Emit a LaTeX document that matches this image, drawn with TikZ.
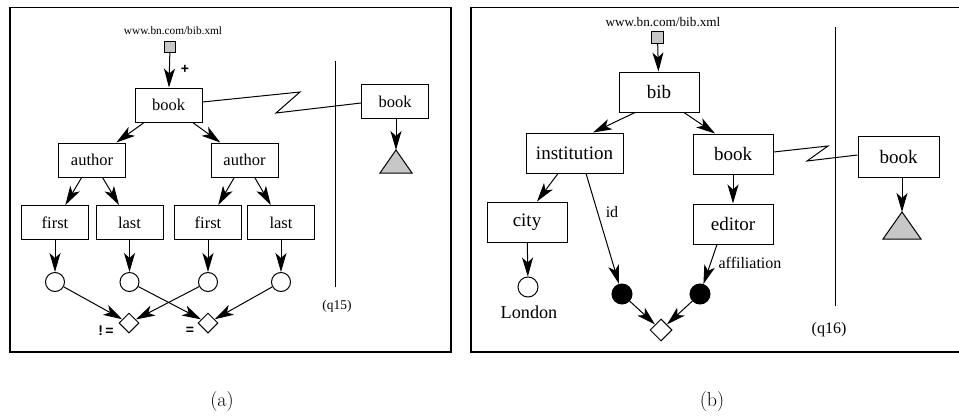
\documentclass[tikz,border=0pt]{standalone}
\usepackage{fontspec}
\usetikzlibrary{shapes.geometric,arrows.meta}
\newfontfamily\tms{Liberation Serif}
\newfontfamily\hvb{Liberation Sans}
\begin{document}
\begin{tikzpicture}[x=1pt,y=-1pt,
  arr/.style={line width=1pt,-{Stealth[length=19pt,width=11pt,inset=5pt]}},
  frame/.style={line width=1.3pt},
  boxa/.style={draw,line width=1pt,minimum width=67pt,minimum height=34pt,inner sep=0pt,font=\tms\fontsize{16.5}{18}\selectfont},
  boxb/.style={draw,line width=1pt,minimum width=80pt,minimum height=40pt,inner sep=0pt,font=\tms\fontsize{19}{21}\selectfont},
  src/.style={draw,line width=0.8pt,fill=black!22,minimum size=#1,inner sep=0pt},
  val/.style={circle,draw,line width=1pt,minimum size=#1,inner sep=0pt},
  full/.style={circle,draw,fill=black,line width=1pt,minimum size=#1,inner sep=0pt},
  cmp/.style={diamond,draw,line width=1pt,minimum width=#1,minimum height=#1,inner sep=0pt,fill=white},
  url/.style={font=\tms\fontsize{#1}{#1}\selectfont,inner sep=0pt},
  lbl/.style={font=\tms\fontsize{#1}{#1}\selectfont,inner sep=0pt},
  op/.style={font=\hvb\bfseries\fontsize{14}{14}\selectfont,inner sep=0pt},
  tri/.style={draw,line width=1pt,fill=black!22,line join=miter}
]
\useasboundingbox (0,0) rectangle (959,418);

% ---------- panel (a) ----------
\draw[frame] (10,7.5) rectangle (451,352);
\node[url=11.3] (urlA) at (173,31) {www.bn.com/bib.xml};
\node[src=11pt] (sqA) at (170,47) {};
\node[boxa] (bookA) at (168.5,105) {book};
\node[boxa] (authL) at (92,160) {author};
\node[boxa] (authR) at (244.5,160) {author};
\node[boxa] (f1) at (55,222.5) {first};
\node[boxa] (l1) at (129.5,222.5) {last};
\node[boxa] (f2) at (208,222.5) {first};
\node[boxa] (l2) at (281,222.5) {last};
\node[val=19pt] (c1) at (55,282) {};
\node[val=19pt] (c2) at (129.5,282) {};
\node[val=19pt] (c3) at (208,282) {};
\node[val=19pt] (c4) at (281,282) {};
\node[cmp=20pt] (dL) at (129,323) {};
\node[cmp=20pt] (dR) at (208,323) {};
\node[op] (neq) at (106,331) {!\,=};
\node[op] (eq) at (190,331) {=};
\node[op] (plus) at (185,69) {+};

\draw[arr] (sqA) -- (bookA);
\draw[arr] (bookA) -- (authL);
\draw[arr] (bookA) -- (authR);
\draw[arr] (authL) -- (f1);
\draw[arr] (authL) -- (l1);
\draw[arr] (authR) -- (f2);
\draw[arr] (authR) -- (l2);
\draw[arr] (f1) -- (c1);
\draw[arr] (l1) -- (c2);
\draw[arr] (f2) -- (c3);
\draw[arr] (l2) -- (c4);
\draw[arr] (c1) -- (dL);
\draw[arr] (c3) -- (dL);
\draw[arr] (c2) -- (dR);
\draw[arr] (c4) -- (dR);

% separator and outer pattern
\coordinate (sepAtop) at (335,61);
\coordinate (sepAbot) at (335,287);
\draw[line width=1pt] (sepAtop) -- (sepAbot);
\node[lbl=13.4] (q15) at (337,306) {(q15)};
\node[boxa] (bookR) at (395,101.5) {book};
\coordinate (zA1) at (300,92);
\coordinate (zA2) at (276,113);
\draw[line width=1pt] ([yshift=3pt]bookA.east) -- (zA1) -- (zA2) -- ([yshift=-1.5pt]bookR.west);
\coordinate (triA) at (396,150);
\draw[tri] (triA) -- ++(-16,23) -- ++(32,0) -- cycle;
\draw[arr] (bookR.south -| triA) -- (triA);

\node[font=\fontsize{20}{22}\selectfont,inner sep=0pt] (capA) at (222,402) {(a)};

% ---------- panel (b) ----------
\draw[frame] (959,7.5) -- (471,7.5) -- (471,352) -- (959,352);
\node[url=13.2] (urlB) at (663,22) {www.bn.com/bib.xml};
\node[src=12pt] (sqB) at (657.5,37) {};
\node[boxb] (bib) at (659,92) {bib};
\node[boxb,minimum width=97pt] (inst) at (574.5,153) {institution};
\node[boxb] (bookB) at (733,154) {book};
\node[boxb] (city) at (527,222) {city};
\node[boxb] (editor) at (733,224) {editor};
\node[val=20pt] (lon) at (528,287) {};
\node[lbl=18.2] (lonT) at (529,312) {London};
\node[full=20pt] (bc1) at (622,294) {};
\node[full=20pt] (bc2) at (700,294) {};
\node[cmp=22pt] (dB) at (661,330) {};
\node[lbl=16] (idT) at (612,212) {id};
\node[lbl=16] (affT) at (750,263) {affiliation};

\draw[arr] (sqB) -- (bib);
\draw[arr] ([xshift=-24pt]bib.south) -- ([xshift=18.5pt]inst.north);
\draw[arr] ([xshift=25pt]bib.south) -- ([xshift=-18pt]bookB.north);
\draw[arr] ([xshift=-16.5pt]inst.south) -- ([xshift=10pt]city.north);
\draw[arr] ([xshift=11.5pt]inst.south) -- (bc1);
\draw[arr] (bookB) -- (editor);
\draw[arr] ([xshift=-16pt]editor.south) -- (bc2);
\draw[arr] (city) -- (lon);
\draw[arr] (bc1) -- (dB);
\draw[arr] (bc2) -- (dB);

\coordinate (sepBtop) at (835,27);
\coordinate (sepBbot) at (835,306);
\draw[line width=1pt] (sepBtop) -- (sepBbot);
\node[lbl=16] (q16) at (829,330) {(q16)};
\node[boxb,minimum width=81pt,minimum height=41pt] (bookB2) at (898.5,156.5) {book};
\coordinate (zB1) at (828,146);
\coordinate (zB2) at (807,161);
\draw[line width=1pt] ([yshift=2pt]bookB.east) -- (zB1) -- (zB2) -- ([yshift=1.5pt]bookB2.west);
\coordinate (triB) at (902,212);
\draw[tri] (triB) -- ++(-19,27) -- ++(38,0) -- cycle;
\draw[arr] (bookB2.south -| triB) -- (triB);

\node[font=\fontsize{20}{22}\selectfont,inner sep=0pt] (capB) at (712,402) {(b)};
\end{tikzpicture}
\end{document}
